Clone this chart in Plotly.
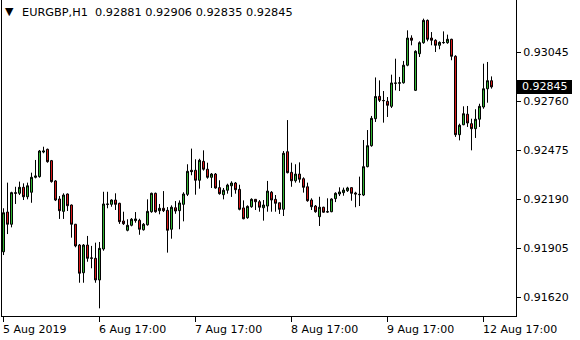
import plotly.graph_objects as go

symbol = "EURGBP,H1"
# hourly bars, indexed left to right (bar 0 = 5 Aug 2019 17:00)
opens = [0.91886, 0.92117, 0.92046, 0.92230, 0.92226, 0.92261, 0.92206, 0.92232, 0.92319, 0.92323,
         0.92466, 0.92482, 0.92416, 0.92298, 0.92193, 0.92121, 0.92222, 0.92158, 0.92046, 0.91925,
         0.91764, 0.91925, 0.91848, 0.91848, 0.91722, 0.91902, 0.92164, 0.92162, 0.92187, 0.92168,
         0.92065, 0.92011, 0.92040, 0.92067, 0.92069, 0.92014, 0.92043, 0.92119, 0.92226, 0.92125,
         0.92139, 0.92127, 0.92017, 0.92142, 0.92125, 0.92162, 0.92220, 0.92360, 0.92360, 0.92302,
         0.92412, 0.92366, 0.92319, 0.92338, 0.92259, 0.92218, 0.92244, 0.92270, 0.92286, 0.92249,
         0.92141, 0.92084, 0.92148, 0.92191, 0.92177, 0.92142, 0.92152, 0.92232, 0.92191, 0.92171,
         0.92133, 0.92468, 0.92348, 0.92299, 0.92338, 0.92311, 0.92264, 0.92187, 0.92152, 0.92090,
         0.92145, 0.92117, 0.92119, 0.92195, 0.92222, 0.92230, 0.92241, 0.92259, 0.92228, 0.92218,
         0.92216, 0.92381, 0.92503, 0.92660, 0.92790, 0.92766, 0.92761, 0.92732, 0.92868, 0.92866,
         0.92869, 0.92971, 0.93129, 0.92825, 0.93038, 0.93102, 0.93232, 0.93129, 0.93116, 0.93087,
         0.93102, 0.93102, 0.93122, 0.93023, 0.92567, 0.92625, 0.92686, 0.92631, 0.92602, 0.92657,
         0.92728, 0.92834, 0.92881]
highs = [0.92139, 0.92288, 0.92235, 0.92264, 0.92294, 0.92284, 0.92288, 0.92346, 0.92420, 0.92478,
         0.92497, 0.92486, 0.92420, 0.92303, 0.92210, 0.92226, 0.92225, 0.92161, 0.92048, 0.91931,
         0.91931, 0.91978, 0.91920, 0.91939, 0.91943, 0.92235, 0.92235, 0.92191, 0.92226, 0.92171,
         0.92119, 0.92075, 0.92082, 0.92117, 0.92078, 0.92053, 0.92191, 0.92230, 0.92230, 0.92164,
         0.92239, 0.92146, 0.92156, 0.92181, 0.92185, 0.92232, 0.92395, 0.92486, 0.92424, 0.92427,
         0.92476, 0.92404, 0.92344, 0.92344, 0.92302, 0.92257, 0.92282, 0.92296, 0.92292, 0.92276,
         0.92185, 0.92156, 0.92197, 0.92193, 0.92187, 0.92187, 0.92298, 0.92239, 0.92216, 0.92171,
         0.92472, 0.92652, 0.92404, 0.92395, 0.92406, 0.92319, 0.92288, 0.92197, 0.92158, 0.92206,
         0.92148, 0.92197, 0.92197, 0.92232, 0.92261, 0.92259, 0.92264, 0.92261, 0.92235, 0.92323,
         0.92536, 0.92594, 0.92676, 0.92900, 0.92883, 0.92821, 0.92786, 0.92916, 0.93009, 0.92903,
         0.92996, 0.93174, 0.93145, 0.93058, 0.93110, 0.93242, 0.93237, 0.93164, 0.93122, 0.93110,
         0.93168, 0.93149, 0.93125, 0.93029, 0.92631, 0.92732, 0.92734, 0.92660, 0.92715, 0.92747,
         0.92980, 0.92990, 0.92906]
lows = [0.91867, 0.91989, 0.92028, 0.92164, 0.92216, 0.92187, 0.92191, 0.92171, 0.92313, 0.92317,
        0.92459, 0.92404, 0.92288, 0.92181, 0.92077, 0.92077, 0.92123, 0.91968, 0.91912, 0.91706,
        0.91706, 0.91828, 0.91790, 0.91706, 0.91557, 0.91892, 0.92139, 0.92148, 0.92129, 0.92048,
        0.92042, 0.92005, 0.92034, 0.92055, 0.91985, 0.92009, 0.92038, 0.92113, 0.92113, 0.92104,
        0.92117, 0.91881, 0.91962, 0.92107, 0.92017, 0.92063, 0.92210, 0.92331, 0.92218, 0.92253,
        0.92358, 0.92311, 0.92257, 0.92253, 0.92218, 0.92191, 0.92224, 0.92205, 0.92224, 0.92127,
        0.92075, 0.92078, 0.92142, 0.92129, 0.92119, 0.92067, 0.92119, 0.92119, 0.92119, 0.92106,
        0.92094, 0.92342, 0.92264, 0.92288, 0.92288, 0.92230, 0.92177, 0.92129, 0.92113, 0.92036,
        0.92113, 0.92113, 0.92116, 0.92175, 0.92210, 0.92212, 0.92234, 0.92183, 0.92145, 0.92152,
        0.92210, 0.92377, 0.92497, 0.92641, 0.92757, 0.92637, 0.92670, 0.92722, 0.92825, 0.92821,
        0.92864, 0.92965, 0.93087, 0.92821, 0.93019, 0.93096, 0.93110, 0.93087, 0.93048, 0.93064,
        0.93096, 0.93096, 0.93000, 0.92554, 0.92534, 0.92622, 0.92612, 0.92476, 0.92548, 0.92612,
        0.92718, 0.92753, 0.92835]
closes = [0.92113, 0.92046, 0.92230, 0.92226, 0.92261, 0.92206, 0.92270, 0.92319, 0.92327, 0.92472,
          0.92472, 0.92410, 0.92294, 0.92187, 0.92125, 0.92216, 0.92154, 0.92046, 0.91920, 0.91761,
          0.91925, 0.91848, 0.91850, 0.91722, 0.91906, 0.92164, 0.92162, 0.92187, 0.92162, 0.92061,
          0.92049, 0.92040, 0.92075, 0.92077, 0.92017, 0.92046, 0.92121, 0.92226, 0.92119, 0.92139,
          0.92125, 0.92011, 0.92145, 0.92123, 0.92170, 0.92222, 0.92354, 0.92352, 0.92302, 0.92418,
          0.92366, 0.92319, 0.92338, 0.92257, 0.92224, 0.92244, 0.92274, 0.92286, 0.92247, 0.92133,
          0.92078, 0.92150, 0.92191, 0.92177, 0.92145, 0.92158, 0.92239, 0.92187, 0.92168, 0.92133,
          0.92459, 0.92346, 0.92299, 0.92338, 0.92308, 0.92261, 0.92183, 0.92148, 0.92119, 0.92145,
          0.92116, 0.92119, 0.92193, 0.92226, 0.92234, 0.92245, 0.92257, 0.92226, 0.92222, 0.92220,
          0.92381, 0.92503, 0.92662, 0.92789, 0.92767, 0.92765, 0.92738, 0.92868, 0.92866, 0.92869,
          0.92971, 0.93129, 0.93116, 0.93052, 0.93102, 0.93232, 0.93122, 0.93116, 0.93087, 0.93104,
          0.93103, 0.93122, 0.93023, 0.92567, 0.92622, 0.92689, 0.92635, 0.92602, 0.92657, 0.92732,
          0.92834, 0.92881, 0.92845]
bar_index = list(range(len(opens)))

x_tick_bars = [0, 24, 48, 72, 96, 120]
x_tick_labels = ["5 Aug 2019", "6 Aug 17:00", "7 Aug 17:00", "8 Aug 17:00", "9 Aug 17:00", "12 Aug 17:00"]
y_tick_values = [0.91620, 0.91905, 0.92190, 0.92475, 0.92760, 0.93045]
y_tick_labels = ["0.91620", "0.91905", "0.92190", "0.92475", "0.92760", "0.93045"]

FONT = "DejaVu Sans"
FS = 11
W, H = 580, 340
ML, MR, MT, MB = 2, 64, 0, 24

fig = go.Figure()
fig.add_trace(go.Candlestick(
    x=bar_index, open=opens, high=highs, low=lows, close=closes,
    increasing=dict(fillcolor="#32b432", line=dict(color="black", width=1)),
    decreasing=dict(fillcolor="#d81818", line=dict(color="black", width=1)),
    whiskerwidth=0, showlegend=False, hoverinfo="skip",
))

# current price marker
fig.add_shape(type="rect", xref="paper", xsizemode="pixel", xanchor=1, x0=1, x1=56,
              yref="y", ysizemode="pixel", yanchor=closes[-1], y0=-7, y1=7,
              fillcolor="black", line=dict(width=0), layer="above")
fig.add_annotation(xref="paper", x=1, xanchor="left", xshift=4, yref="y", y=closes[-1],
                   yanchor="middle", text=f"{closes[-1]:.5f}", showarrow=False,
                   font=dict(family=FONT, size=FS, color="white"))

# header
fig.add_annotation(xref="paper", x=0, xanchor="left", xshift=1, yref="paper", y=1, yanchor="middle",
                   yshift=-11, text="▼", showarrow=False, font=dict(family=FONT, size=11, color="black"))
header = f"{symbol}\u00a0\u00a0{opens[-1]:.5f} {highs[-1]:.5f} {lows[-1]:.5f} {closes[-1]:.5f}"
fig.add_annotation(xref="paper", x=0, xanchor="left", xshift=18, yref="paper", y=1, yanchor="middle",
                   yshift=-12, text=header, showarrow=False, font=dict(family=FONT, size=11.3, color="black"))

# time labels (left-aligned at ticks)
for b, lab in zip(x_tick_bars, x_tick_labels):
    fig.add_annotation(xref="x", x=b, xanchor="left", xshift=-3, yref="paper", y=0, yanchor="top",
                       yshift=-5, text=lab, showarrow=False, font=dict(family=FONT, size=FS, color="black"))

fig.update_layout(
    width=W, height=H, margin=dict(l=ML, r=MR, t=MT, b=MB),
    paper_bgcolor="white", plot_bgcolor="white",
    font=dict(family=FONT, size=FS, color="black"),
    showlegend=False, boxgap=0.5, boxgroupgap=0,
    xaxis=dict(range=[-0.375, 128.125], showgrid=False, zeroline=False, showline=True,
               linecolor="black", linewidth=1, ticks="outside", ticklen=5, tickcolor="black",
               tickvals=x_tick_bars, showticklabels=False, rangeslider=dict(visible=False),
               fixedrange=True),
    yaxis=dict(side="right", range=[0.915124, 0.933504], showgrid=False, zeroline=False,
               showline=True, mirror=True, linecolor="black", linewidth=1,
               ticks="outside", ticklen=4, tickcolor="black",
               tickvals=y_tick_values, ticktext=y_tick_labels, fixedrange=True),
)

fig.write_html("out.html")
